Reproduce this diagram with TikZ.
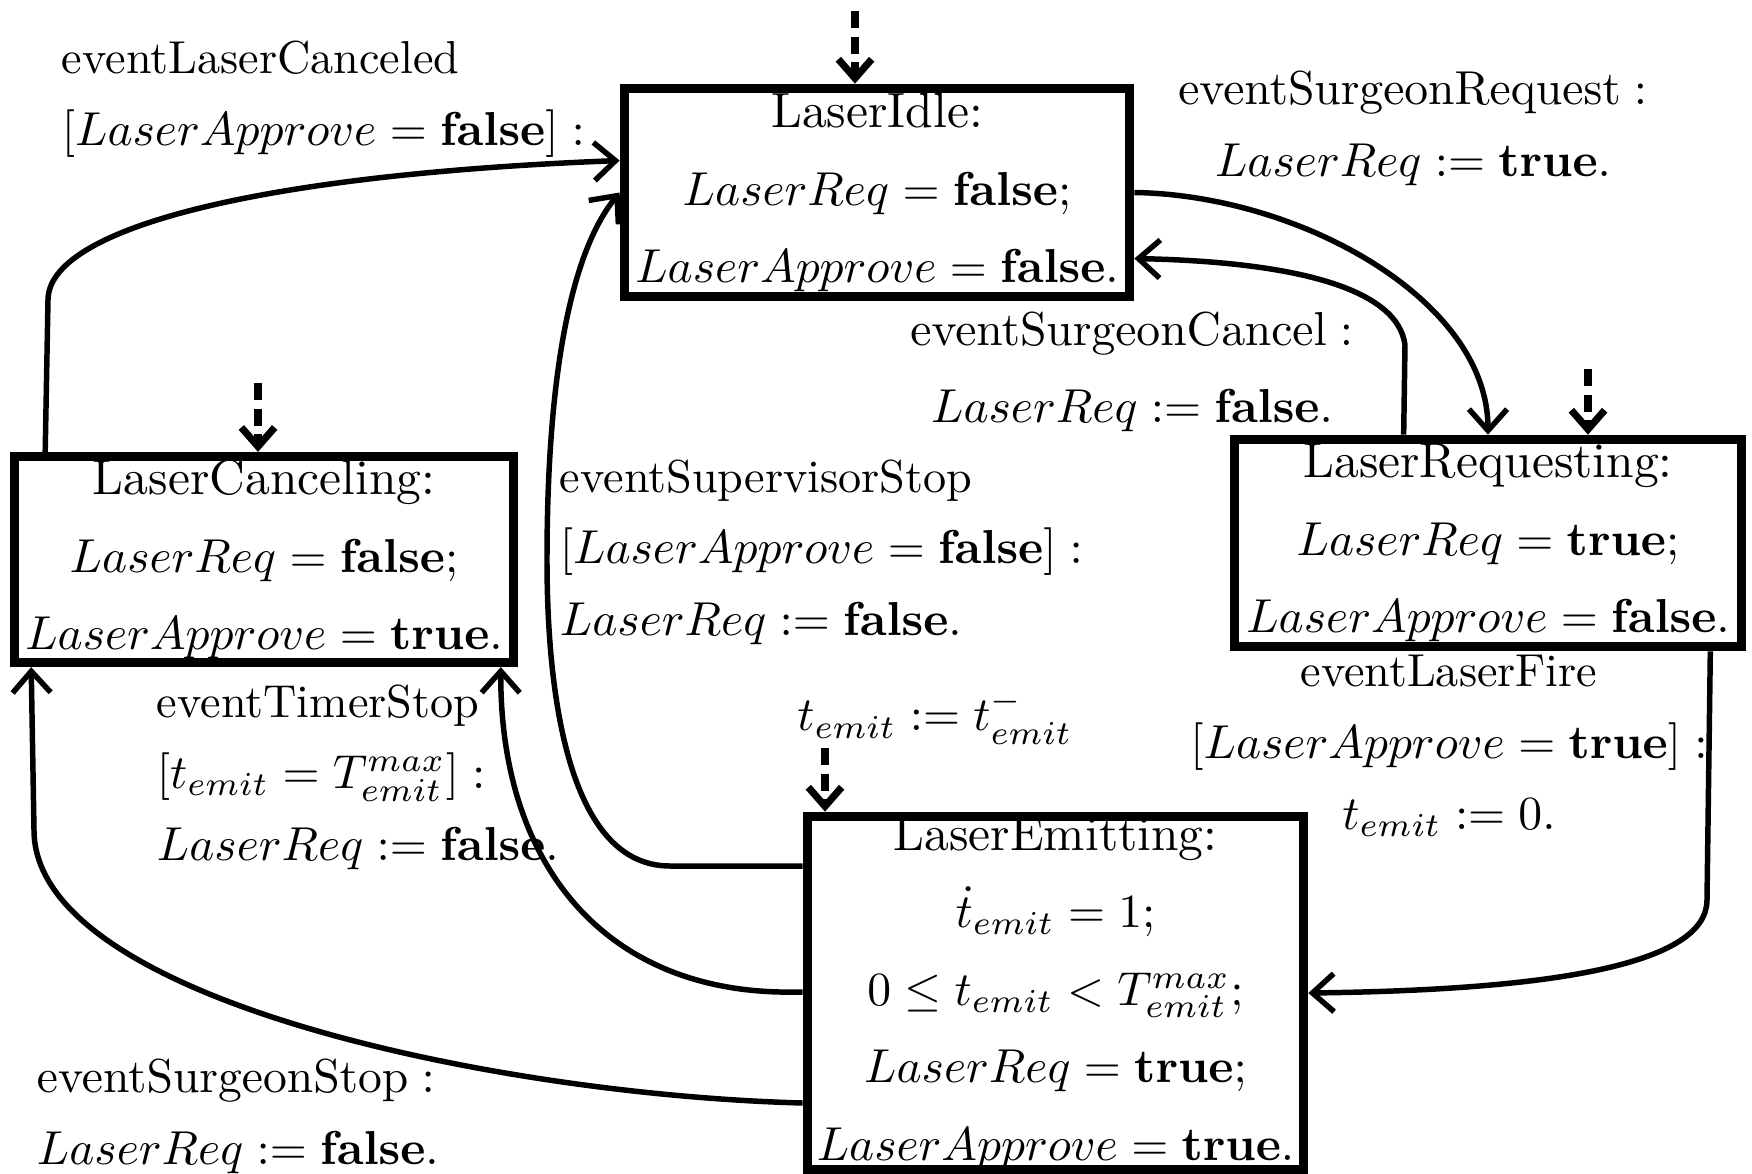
\documentclass[tikz,border=0pt]{standalone}
\usetikzlibrary{arrows.meta,calc}
\begin{document}
\begin{tikzpicture}[x=0.21pt,y=-0.21pt,
  state/.style={draw,line width=1.9pt,inner sep=0pt,align=center,
    font=\fontsize{10.4}{16.3}\selectfont},
  lbl/.style={inner sep=0pt,font=\fontsize{9.7}{15}\selectfont},
  edge/.style={line width=1.15pt,-{Straight Barb[length=4.5pt,width=8pt]}},
  init/.style={line width=1.5pt,dash pattern=on 3.6pt off 1.8pt,
    -{Straight Barb[length=4pt,width=7pt]}}]
\useasboundingbox (0,0) rectangle (1752,1173);

% states
\node[state,minimum width=106.2pt,minimum height=43.8pt] (idle) at (877,192.5)
  {LaserIdle:\\ $LaserReq=\mathbf{false};$\\ $LaserApprove=\mathbf{false}.$};
\node[state,minimum width=104.7pt,minimum height=43.3pt] (canc) at (264,559.5)
  {LaserCanceling:\\ $LaserReq=\mathbf{false};$\\ $LaserApprove=\mathbf{true}.$};
\node[state,minimum width=106.6pt,minimum height=43.6pt] (req) at (1488,543)
  {LaserRequesting:\\ $LaserReq=\mathbf{true};$\\ $LaserApprove=\mathbf{false}.$};
\node[state,minimum width=104.3pt,minimum height=73.7pt] (emit) at (1055.5,993)
  {LaserEmitting:\\ $\dot{t}_{emit}=1;$\\ $0\le t_{emit}<T^{max}_{emit};$\\
   $LaserReq=\mathbf{true};$\\ $LaserApprove=\mathbf{true}.$};

% transition labels
\node[lbl,anchor=west,align=left] (l1) at (61,99)
  {eventLaserCanceled\\ $[LaserApprove=\mathbf{false}]:$};
\node[lbl,align=center] (l2) at (1413,129)
  {$\mathrm{eventSurgeonRequest}:$\\ $LaserReq:=\mathbf{true}.$};
\node[lbl,align=center] (l3) at (1132,372)
  {$\mathrm{eventSurgeonCancel}:$\\[1pt] $LaserReq:=\mathbf{false}.$};
\node[lbl,anchor=west,align=left] (l4) at (559,552)
  {eventSupervisorStop\\ $[LaserApprove=\mathbf{false}]:$\\ $LaserReq:=\mathbf{false}.$};
\node[lbl,anchor=west,align=left] (l5) at (156,777)
  {eventTimerStop\\ $[t_{emit}=T^{max}_{emit}]:$\\ $LaserReq:=\mathbf{false}.$};
\node[lbl] (l6) at (935,717) {$t_{emit}:=t^{-}_{emit}$};
\node[lbl,align=center] (l7) at (1449,746)
  {eventLaserFire\\ $[LaserApprove=\mathbf{true}]:$\\ $t_{emit}:=0.$};
\node[lbl,anchor=west,align=left] (l8) at (36,1117)
  {$\mathrm{eventSurgeonStop}:$\\ $LaserReq:=\mathbf{false}.$};

% initial markers
\coordinate (i1) at (855,11);
\coordinate (i2) at (258,383);
\coordinate (i3) at (1588,369);
\coordinate (i4) at (825,748);
\draw[init] (i1) -- (i1 |- idle.north);
\draw[init] (i2) -- (i2 |- canc.north);
\draw[init] (i3) -- (i3 |- req.north);
\draw[init] (i4) -- (i4 |- emit.north);

% transitions
\draw[edge] ($(canc.north west)+(35,0)$) -- (48,300)
  .. controls (48,230) and (250,175) .. ($(idle.west)+(0,-32)$);
\draw[edge] ($(emit.west)+(0,-127)$) -- (670,866)
  .. controls (570,866) and (547,700) .. (547,560)
  .. controls (547,400) and (565,260) .. (idle.west);
\draw[edge] (idle.east) .. controls (1300,195) and (1488,300) .. (req.north);
\draw[edge] ($(req.north west)+(174,0)$) -- (1405,345)
  .. controls (1398,290) and (1300,262) .. ($(idle.east)+(0,66)$);
\draw[edge] ($(req.south east)+(-36,0)$) -- (1707,900)
  .. controls (1707,965) and (1550,990) .. (emit.east);
\draw[edge] ($(emit.west)+(0,-1)$) -- (780,992)
  .. controls (600,988) and (500,860) .. ($(canc.south east)+(-17,0)$);
\draw[edge] ($(emit.west)+(0,110)$)
  .. controls (500,1095) and (34,1000) .. (34,830) -- ($(canc.south west)+(21,0)$);
\end{tikzpicture}
\end{document}
